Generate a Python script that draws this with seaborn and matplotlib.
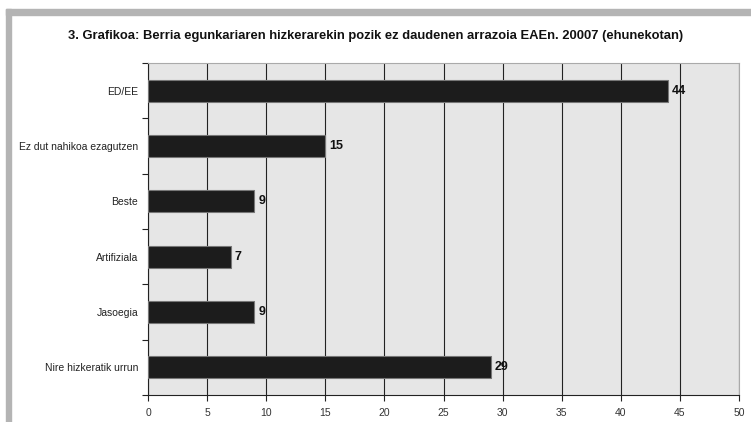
import matplotlib
matplotlib.use('Agg')
import matplotlib.pyplot as plt
import seaborn as sns
import pandas as pd
from matplotlib.patches import Rectangle

# Datuak
categories = ['ED/EE', 'Ez dut nahikoa ezagutzen', 'Beste', 'Artifiziala',
              'Jasoegia', 'Nire hizkeratik urrun']
values = [44, 15, 9, 7, 9, 29]
xticks = list(range(0, 55, 5))
title = '3. Grafikoa: Berria egunkariaren hizkerarekin pozik ez daudenen arrazoia EAEn. 20007 (ehunekotan)'

df = pd.DataFrame({'kategoria': categories, 'balioa': values})

sns.set_style('white')
plt.rcParams['font.family'] = ['Liberation Sans', 'DejaVu Sans']

fig = plt.figure(figsize=(7.51, 4.22), dpi=100)
# Marko grisa
fig.patches.append(Rectangle((6 / 751, 1 - 15 / 422), 1, 6 / 422,
                             transform=fig.transFigure, color='#b4b4b4', zorder=0))
fig.patches.append(Rectangle((6 / 751, 0), 5 / 751, 1 - 9 / 422,
                             transform=fig.transFigure, color='#b4b4b4', zorder=0))

ax = fig.add_axes([148 / 751, 1 - 395 / 422, (739 - 148) / 751, (395 - 63) / 422])
ax.set_facecolor('#e6e6e6')
sns.barplot(data=df, x='balioa', y='kategoria', orient='h', color='#1c1c1c',
            edgecolor='#777777', linewidth=0.8, width=0.4, ax=ax, zorder=3)

ax.set_xlim(0, 50)
ax.set_ylim(5.5, -0.5)
ax.set_xticks(xticks)
ax.set_xticklabels([str(t) for t in xticks], fontsize=7.5, color='#333333')
ax.xaxis.grid(True, color='#222222', linewidth=0.8, zorder=1)
ax.set_axisbelow(True)
ax.set_yticks(range(len(categories)))
ax.set_yticklabels(categories, fontsize=7.5, color='#222222')
ax.set_yticks([i + 0.5 for i in range(-1, len(categories))], minor=True)
ax.tick_params(axis='y', which='major', length=0, pad=7)
ax.tick_params(axis='y', which='minor', left=True, length=4, width=0.8,
               color='#222222', direction='out')
ax.tick_params(axis='x', bottom=True, length=4, width=0.8, color='#222222',
               direction='out', pad=5)
ax.set_xlabel('')
ax.set_ylabel('')

for s in ['left', 'bottom']:
    ax.spines[s].set_color('#222222')
    ax.spines[s].set_linewidth(0.8)
for s in ['top', 'right']:
    ax.spines[s].set_color('#aaaaaa')
    ax.spines[s].set_linewidth(0.8)

for i, v in enumerate(values):
    ax.text(v + 0.35, i, str(v), va='center', ha='left', fontsize=9,
            fontweight='bold', color='#111111', zorder=4)

fig.text(0.5, 1 - 36 / 422, title, ha='center', va='center', fontsize=9.4,
         fontweight='bold', color='#111111')

fig.savefig('out.png', dpi=100)
